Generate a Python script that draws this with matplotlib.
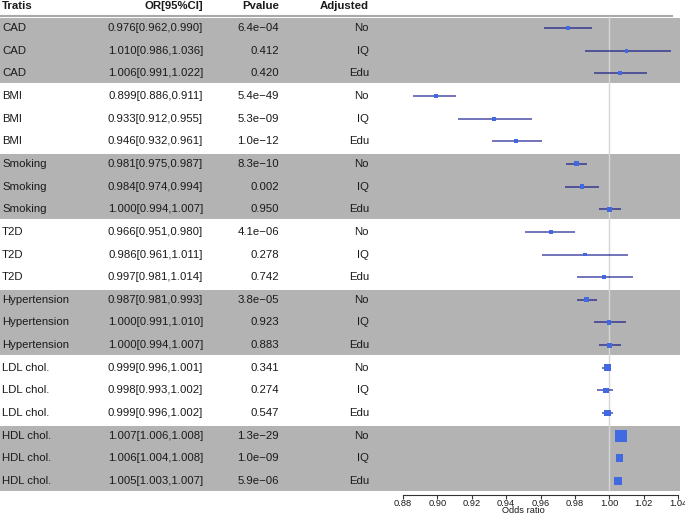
import numpy as np
import matplotlib.pyplot as plt

plt.rcParams['font.family'] = ['Liberation Sans', 'DejaVu Sans']

# data
trait_names = ['CAD', 'BMI', 'Smoking', 'T2D', 'Hypertension', 'LDL chol.', 'HDL chol.']
adjusted = ['No', 'IQ', 'Edu']
or_vals = [0.976, 1.010, 1.006, 0.899, 0.933, 0.946, 0.981, 0.984, 1.000,
           0.966, 0.986, 0.997, 0.987, 1.000, 1.000, 0.999, 0.998, 0.999,
           1.007, 1.006, 1.005]
lower = [0.962, 0.986, 0.991, 0.886, 0.912, 0.932, 0.975, 0.974, 0.994,
         0.951, 0.961, 0.981, 0.981, 0.991, 0.994, 0.996, 0.993, 0.996,
         1.006, 1.004, 1.003]
upper = [0.990, 1.036, 1.022, 0.911, 0.955, 0.961, 0.987, 0.994, 1.007,
         0.980, 1.011, 1.014, 0.993, 1.010, 1.007, 1.001, 1.002, 1.002,
         1.008, 1.008, 1.007]
pvals = ['6.4e-04', '0.412', '0.420', '5.4e-49', '5.3e-09', '1.0e-12',
         '8.3e-10', '0.002', '0.950', '4.1e-06', '0.278', '0.742',
         '3.8e-05', '0.923', '0.883', '0.341', '0.274', '0.547',
         '1.3e-29', '1.0e-09', '5.9e-06']
xticks = [0.88, 0.90, 0.92, 0.94, 0.96, 0.98, 1.00, 1.02, 1.04]

W, H = 685, 515
row0, step = 28, 22.65  # pixel centre of first row, row spacing


def px2row(py):
    return (py - row0) / step


n = len(or_vals)
rows = np.arange(n)
labels = [t for t in trait_names for _ in adjusted]
adj = adjusted * len(trait_names)

fig = plt.figure(figsize=(W / 100, H / 100), dpi=100)

# background axes: bands + table text, x in pixels
bg = fig.add_axes([0, 0, 1, 1])
bg.set_xlim(0, W)
bg.set_ylim(px2row(H), px2row(0))
bg.axis('off')

for g in range(0, len(trait_names), 2):
    bg.axhspan(g * 3 - 0.43, g * 3 + 2.43, xmin=0, xmax=680 / W,
               color='#b3b3b3', lw=0)
bg.axhline(px2row(16), xmin=0, xmax=672 / W, color='#a8a8a8', lw=1.5)

fs = 8.2
hy = px2row(6)
txt = '#1a1a1a'
bg.text(2, hy, 'Tratis', ha='left', va='center', fontsize=fs, fontweight='bold', color=txt)
bg.text(203, hy, 'OR[95%CI]', ha='right', va='center', fontsize=fs, fontweight='bold', color=txt)
bg.text(279, hy, 'Pvalue', ha='right', va='center', fontsize=fs, fontweight='bold', color=txt)
bg.text(369, hy, 'Adjusted', ha='right', va='center', fontsize=fs, fontweight='bold', color=txt)

for i in range(n):
    bg.text(2, i, labels[i], ha='left', va='center', fontsize=fs, color=txt)
    bg.text(203, i, f'{or_vals[i]:.3f}[{lower[i]:.3f},{upper[i]:.3f}]',
            ha='right', va='center', fontsize=fs, color=txt)
    bg.text(279, i, pvals[i].replace('-', '\u2212'), ha='right', va='center',
            fontsize=fs, color=txt)
    bg.text(369, i, adj[i], ha='right', va='center', fontsize=fs, color=txt)

# forest axes
ax = fig.add_axes([403 / W, 1 - 495 / H, 275 / W, 479 / H])
ax.set_facecolor('none')
ax.set_xlim(0.88, 1.04)
ax.set_ylim(px2row(495), px2row(16))
for s in ['top', 'right', 'left']:
    ax.spines[s].set_visible(False)
ax.spines['bottom'].set_color('#333333')
ax.spines['bottom'].set_linewidth(0.8)
ax.set_yticks([])

ax.vlines(1.0, px2row(16), px2row(491), color='#d6d6d6', lw=1.0, zorder=1)

lo = np.array(lower)
hi = np.array(upper)
ax.hlines(rows, lo, hi, color='#000080', alpha=0.55, lw=1.4, zorder=2)

# box size grows with precision (1 / CI width)
w = 1 / (hi - lo)
box_px = 3.5 + 8.5 * w / w.max()
ax.scatter(or_vals, rows, marker='s', s=(box_px * 0.72) ** 2,
           color='#4169E1', lw=0, zorder=3)

ax.set_xticks(xticks)
ax.set_xticklabels([f'{t:.2f}' for t in xticks])
ax.tick_params(axis='x', direction='out', length=3, width=0.8, color='#333333',
               labelsize=6.7, pad=0, labelcolor='#1a1a1a')
ax.set_xlabel('Odds ratio', fontsize=6.7, labelpad=0, color='#1a1a1a')
ax.xaxis.set_label_coords(0.436, -0.024)

fig.savefig('out.png', dpi=100)
